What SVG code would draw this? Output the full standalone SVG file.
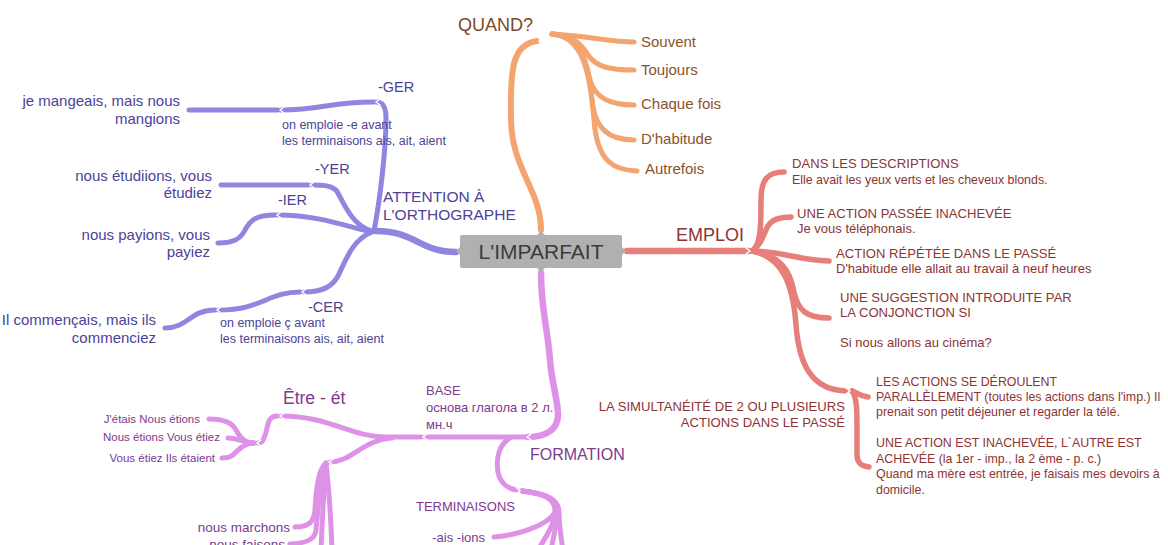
<svg xmlns="http://www.w3.org/2000/svg" width="1168" height="545" viewBox="0 0 1168 545">
<style>
.c{fill:none;stroke-linecap:round;stroke-linejoin:round}
.o{stroke:#F3A46F;stroke-width:6}
.o2{stroke:#F3A46F;stroke-width:5}
.r{stroke:#E67E7A;stroke-width:6.5}
.r2{stroke:#E67E7A;stroke-width:5.5}
.p{stroke:#8F86DF;stroke-width:6.5}
.p2{stroke:#8F86DF;stroke-width:5}
.m{stroke:#DE92E7;stroke-width:6.5}
.m2{stroke:#DE92E7;stroke-width:5}
.ch{fill:none;stroke:#fff;stroke-width:1.4;stroke-linecap:round}
text{font-family:"Liberation Sans",Arial,sans-serif}
.to{fill:#8a5329;font-size:15px}
.tp{fill:#4b4399;font-size:15px}
.tps{fill:#4b4399;font-size:12.5px}
.tr{fill:#8c3434;font-size:12.4px}
.trl{fill:#8c3434;font-size:13px}
.trc{fill:#8c3434;font-size:13.1px}
.tm{fill:#7d3a8f;font-size:13px}
.tms{fill:#7d3a8f;font-size:11.5px}
.end{text-anchor:end}
</style>
<rect width="1168" height="545" fill="#fff"/>
<g id="connectors">
  <!-- orange -->
  <path class="c o" d="M541,230 C541,190 512,170 511,120 C510,70 512,44 537,41"/>
  <path class="c o2" d="M552,34 C590,36 610,42 634,42"/>
  <path class="c o2" d="M552,34 C575,36 582,45 588,55 C596,67 610,70 634,70"/>
  <path class="c o2" d="M552,34 C578,36 585,55 590,80 C595,98 610,105 634,105"/>
  <path class="c o2" d="M552,34 C580,36 588,60 592,100 C595,130 610,140 634,140"/>
  <path class="c o2" d="M552,34 C582,36 590,70 594,120 C597,160 612,170 637,171"/>
  <!-- purple -->
  <path class="c p" d="M456,252 C420,252 415,231 376,231"/>
  <path class="c p2" d="M374,231 C380,200 386,150 386,118 C386,107 383,102 376,102"/>
  <path class="c p2" d="M373,102 C330,102 322,110 281,110"/>
  <path class="c p2" d="M278,110 L189,110"/>
  <path class="c p2" d="M372,231 C350,225 342,198 336,190 C330,185 322,185 312,185"/>
  <path class="c p2" d="M308,185 L221,185"/>
  <path class="c p2" d="M371,232 C345,226 318,215 278,215"/>
  <path class="c p2" d="M275,215 C255,215 250,221 245,230 C240,240 232,243 218,243"/>
  <path class="c p2" d="M372,232 C352,240 346,260 338,276 C332,287 322,292 304,292"/>
  <path class="c p2" d="M300,292 C268,292 262,310 219,310"/>
  <path class="c p2" d="M215,310 C190,310 188,328 165,328"/>
  <!-- red -->
  <path class="c r" d="M627,251 L748,251"/>
  <path class="c r2" d="M752,251 C761,245 761,225 761,200 C761,180 767,172 784,172"/>
  <path class="c r2" d="M752,251 C762,245 764,232 768,226 C772,219 780,217 791,217"/>
  <path class="c r2" d="M752,251 C780,251 798,260 829,261"/>
  <path class="c r2" d="M752,251 C780,255 790,270 794,292 C798,310 806,318 829,318"/>
  <path class="c r2" d="M752,251 C783,257 793,285 796,325 C799,365 812,390 846,391"/>
  <path class="c r2" d="M852,391 C857,392 858,396 868,397"/>
  <path class="c r2" d="M852,391 C857,398 857,410 857,430 L857,455 C857,463 861,466 869,467"/>
  <!-- magenta -->
  <path class="c m" d="M541,273 C541,310 548,330 550,360 C552,385 558,400 558,415 C558,430 545,437 528,437"/>
  <path class="c m2" d="M525,437 L425,437"/>
  <path class="c m2" d="M421,437 L386,437 C350,437 330,416 281,416"/>
  <path class="c m2" d="M277,416 C268,416 268,425 266,432 C264,440 262,443 258,443"/>
  <path class="c m2" d="M254,443 C244,443 240,437 236,430 C232,422 222,419 209,419"/>
  <path class="c m2" d="M254,443 C245,443 238,438 228,438"/>
  <path class="c m2" d="M254,443 C244,443 238,450 233,455 C229,458 226,458 222,458"/>
  <path class="c m2" d="M392,438 C362,440 352,462 330,462"/>
  <path class="c m2" d="M326,463 C318,470 316,490 315,510 C314,521 310,527 295,527"/>
  <path class="c m2" d="M326,463 C320,480 318,510 316,530 C315,540 306,543 290,544"/>
  <path class="c m2" d="M326,463 C324,490 322,520 321,550"/>
  <path class="c m2" d="M326,463 C329,490 331,520 332,550"/>
  <path class="c m2" d="M510,438 C498,445 496,460 498,472 C500,483 508,489 517,490"/>
  <path class="c m2" d="M522,491 C540,493 557,497 556,508 C555,522 522,535 494,537"/>
  <path class="c m2" d="M522,491 C540,493 556,497 555,512 C554,526 545,538 538,550"/>
  <path class="c m2" d="M522,491 C540,493 557,497 557,512 C557,526 553,538 551,550"/>
  <path class="c m2" d="M522,491 C540,493 559,497 559,512 C559,526 561,538 563,550"/>
  <!-- chevrons -->
  <polyline class="ch" points="543,37 539,41 544,44"/>
  <polyline class="ch" points="380,99 376,102 380,105"/>
  <polyline class="ch" points="284,107 280,110 284,113"/>
  <polyline class="ch" points="314,182 310,185 314,188"/>
  <polyline class="ch" points="281,212 277,215 281,218"/>
  <polyline class="ch" points="306,289 302,292 306,295"/>
  <polyline class="ch" points="221,307 217,310 221,313"/>
  <polyline class="ch" points="746,248 750,251 746,254"/>
  <polyline class="ch" points="846,388 850,391 846,394"/>
  <polyline class="ch" points="531,434 527,437 531,440"/>
  <polyline class="ch" points="427,434 423,437 427,440"/>
  <polyline class="ch" points="284,413 280,416 284,419"/>
  <polyline class="ch" points="261,440 257,443 261,446"/>
  <polyline class="ch" points="333,459 329,462 333,465"/>
  <polyline class="ch" points="516,487 520,491 516,494"/>
</g>
<g id="center">
  <path d="M462,235 L537,235 L541,231 L545,235 L620,235 Q622,235 622,237 L622,247 L626,251 L622,255 L622,266 Q622,268 620,268 L545,268 L541,272 L537,268 L462,268 Q460,268 460,266 L460,255 L456,251 L460,247 L460,237 Q460,235 462,235 Z" fill="#B0B0B0"/>
  <text x="541" y="259" text-anchor="middle" font-size="21" fill="#3c3c3c">L'IMPARFAIT</text>
</g>
<g id="quand">
  <text x="458" y="31" font-size="18" fill="#7b4a2b">QUAND?</text>
</g>
<g id="quand-items">
  <text class="to" x="641" y="47">Souvent</text>
  <text class="to" x="641" y="75">Toujours</text>
  <text class="to" x="641" y="109">Chaque fois</text>
  <text class="to" x="641" y="144">D'habitude</text>
  <text class="to" x="645" y="174">Autrefois</text>
</g>
<g id="attention">
  <text x="383" y="202" font-size="15.5" fill="#4b4399">ATTENTION À</text>
  <text x="383" y="220" font-size="15.5" fill="#4b4399">L'ORTHOGRAPHE</text>
</g>
<g id="ger">
  <text x="378" y="92" font-size="14.5" fill="#4b4399">-GER</text>
  <text class="tps" x="282" y="129">on emploie -e avant</text>
  <text class="tps" x="282" y="145">les terminaisons ais, ait, aient</text>
  <text class="tp end" x="180" y="106">je mangeais, mais nous</text>
  <text class="tp end" x="180" y="124">mangions</text>
</g>
<g id="yer">
  <text x="315" y="174" font-size="14.5" fill="#4b4399">-YER</text>
  <text class="tp end" x="212" y="181">nous étudiions, vous</text>
  <text class="tp end" x="212" y="198">étudiez</text>
</g>
<g id="ier">
  <text x="278" y="205" font-size="14.5" fill="#4b4399">-IER</text>
  <text class="tp end" x="210" y="240">nous payions, vous</text>
  <text class="tp end" x="210" y="257">payiez</text>
</g>
<g id="cer">
  <text x="308" y="312" font-size="14.5" fill="#4b4399">-CER</text>
  <text class="tps" x="220" y="327">on emploie ç avant</text>
  <text class="tps" x="220" y="343">les terminaisons ais, ait, aient</text>
  <text class="tp end" x="156" y="325">Il commençais, mais ils</text>
  <text class="tp end" x="156" y="343">commenciez</text>
</g>
<g id="emploi">
  <text x="676" y="241" font-size="18" fill="#8c3434">EMPLOI</text>
</g>
<g id="descriptions">
  <text class="trc" x="792" y="168">DANS LES DESCRIPTIONS</text>
  <text class="tr" x="792" y="184" font-size="12.1">Elle avait les yeux verts et les cheveux blonds.</text>
</g>
<g id="inachevee">
  <text class="trc" x="797" y="218">UNE ACTION PASSÉE INACHEVÉE</text>
  <text class="trl" x="797" y="233">Je vous téléphonais.</text>
</g>
<g id="repetee">
  <text class="trc" x="836" y="258">ACTION RÉPÉTÉE DANS LE PASSÉ</text>
  <text class="trl" x="836" y="273">D'habitude elle allait au travail à neuf heures</text>
</g>
<g id="suggestion">
  <text class="trc" x="840" y="302">UNE SUGGESTION INTRODUITE PAR</text>
  <text class="trc" x="840" y="317">LA CONJONCTION SI</text>
  <text class="trl" x="840" y="347">Si nous allons au cinéma?</text>
</g>
<g id="simultaneite">
  <text class="trc end" x="845" y="411">LA SIMULTANÉITÉ DE 2 OU PLUSIEURS</text>
  <text class="trc end" x="845" y="427">ACTIONS DANS LE PASSÉ</text>
</g>
<g id="paralleles">
  <text class="tr" x="876" y="386" font-size="12.7">LES ACTIONS SE DÉROULENT</text>
  <text class="tr" x="876" y="401">PARALLÈLEMENT (toutes les actions dans l'imp.) Il</text>
  <text class="tr" x="876" y="416">prenait son petit déjeuner et regarder la télé.</text>
</g>
<g id="achevee">
  <text class="tr" x="876" y="447" font-size="12.7">UNE ACTION EST INACHEVÉE, L`AUTRE EST</text>
  <text class="tr" x="876" y="463">ACHEVÉE (la 1er - imp., la 2 ème - p. c.)</text>
  <text class="tr" x="876" y="478">Quand ma mère est entrée, je faisais mes devoirs à</text>
  <text class="tr" x="876" y="494">domicile.</text>
</g>
<g id="formation">
  <text x="530" y="460" font-size="16" fill="#7d3a8f">FORMATION</text>
</g>
<g id="base">
  <text class="tm" x="426" y="395">BASE</text>
  <text class="tm" x="426" y="412">основа глагола в 2 л.</text>
  <text class="tm" x="426" y="429">мн.ч</text>
</g>
<g id="etre">
  <text x="283" y="404" font-size="17.5" fill="#7d3a8f">Être - ét</text>
  <text class="tms end" x="200" y="423">J'étais Nous étions</text>
  <text class="tms end" x="220" y="441">Nous étions Vous étiez</text>
  <text class="tms end" x="215" y="462">Vous étiez Ils étaient</text>
</g>
<g id="exemples">
  <text x="290" y="532" font-size="13.5" fill="#7d3a8f" text-anchor="end">nous marchons</text>
  <text x="285" y="549" font-size="13.5" fill="#7d3a8f" text-anchor="end">nous faisons</text>
</g>
<g id="terminaisons">
  <text x="416" y="511" font-size="13" fill="#7d3a8f">TERMINAISONS</text>
  <text x="485" y="542" font-size="13" fill="#7d3a8f" text-anchor="end">-ais -ions</text>
</g>
</svg>
